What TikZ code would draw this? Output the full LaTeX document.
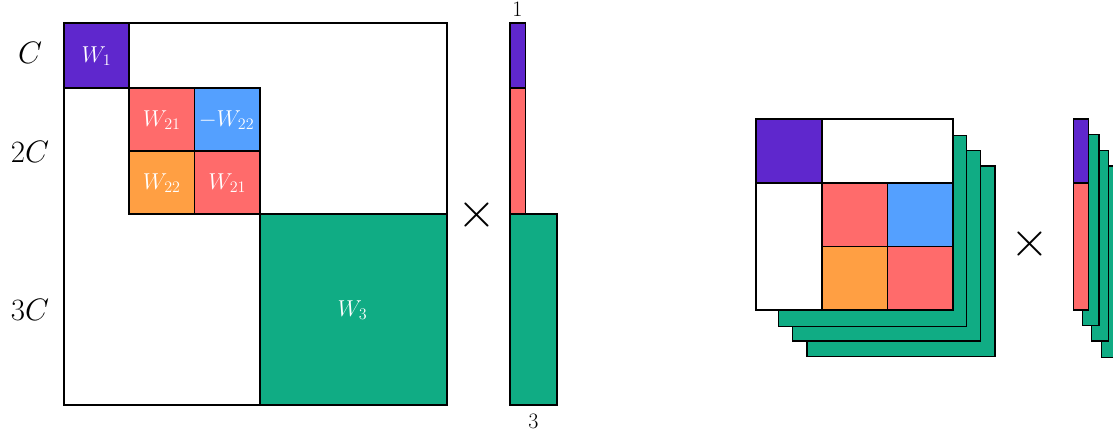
\RequirePackage{fix-cm}
\documentclass[tikz,border=0pt]{standalone}
\usepackage{tikz}
\definecolor{cpurple}{HTML}{5F27CD}
\definecolor{cred}{HTML}{FF6B6B}
\definecolor{cblue}{HTML}{54A0FF}
\definecolor{corange}{HTML}{FF9F43}
\definecolor{cgreen}{HTML}{10AC84}
\tikzset{
  blk/.style={draw=black, line width=1.1pt},
  wlab/.style={text=white, font=\fontsize{23}{23}\selectfont, inner sep=0pt},
  dimlab/.style={font=\fontsize{31}{31}\selectfont, inner sep=0pt},
  numlab/.style={font=\fontsize{22}{22}\selectfont, inner sep=0pt},
  crosslab/.style={font=\fontsize{50}{50}\selectfont, inner sep=0pt},
}
\begin{document}
\begin{tikzpicture}[x=1pt,y=-1pt]
\useasboundingbox (0,0) rectangle (1113,433);
\clip (0,0) rectangle (1113,433);
% ---------- left matrix ----------
\draw[blk, fill=white] (64,23) rectangle (447,405);
\draw[blk, fill=cpurple] (64,23) rectangle (129,88);
\draw[blk, fill=cred] (129,88) rectangle (194.5,151);
\draw[blk, fill=cblue] (194.5,88) rectangle (260,151);
\draw[blk, fill=corange] (129,151) rectangle (194.5,214);
\draw[blk, fill=cred] (194.5,151) rectangle (260,214);
\draw[blk, fill=cgreen] (260,214) rectangle (447,405);
\node[wlab] (w1) at (96.5,56) {$W_1$};
\node[wlab] (w21a) at (161.75,120) {$W_{21}$};
\node[wlab] (w22a) at (226.5,120) {$-W_{22}$};
\node[wlab] (w22b) at (161.75,183) {$W_{22}$};
\node[wlab] (w21b) at (227.25,183) {$W_{21}$};
\node[wlab] (w3) at (352.5,310) {$W_3$};
\node[dimlab] (c1) at (30,53) {$C$};
\node[dimlab] (c2) at (30,152) {$2C$};
\node[dimlab] (c3) at (30,310) {$3C$};
% ---------- left vector ----------
\draw[blk, fill=cpurple] (510,23) rectangle (525.5,88);
\draw[blk, fill=cred] (510,88) rectangle (525.5,214);
\draw[blk, fill=cgreen] (510,214) rectangle (557,405);
\node[numlab] (n1) at (517.5,9.5) {$1$};
\node[numlab] (n3) at (533.5,421) {$3$};
\node[crosslab] (x1) at (476.5,215) {$\times$};
% ---------- right stacked matrix ----------
\draw[blk, fill=cgreen] (807,166) rectangle (995,356.7);
\draw[blk, fill=cgreen] (792.7,150.5) rectangle (980.7,341);
\draw[blk, fill=cgreen] (778.7,135.7) rectangle (966.7,326.7);
\draw[blk, fill=white] (756,119) rectangle (953,310);
\draw[blk, fill=cpurple] (756,119) rectangle (822,183);
\draw[blk] (756,183) -- (822,183);
\draw[blk, fill=cred] (822,183) rectangle (887.5,246.5);
\draw[blk, fill=cblue] (887.5,183) rectangle (953,246.5);
\draw[blk, fill=corange] (822,246.5) rectangle (887.5,310);
\draw[blk, fill=cred] (887.5,246.5) rectangle (953,310);
\node[crosslab] (x2) at (1030,243.5) {$\times$};
% ---------- right stacked vector ----------
\draw[blk, fill=cgreen] (1101.3,166) rectangle (1118,357.7);
\draw[blk, fill=cgreen] (1091.7,150.7) rectangle (1108.7,341);
\draw[blk, fill=cgreen] (1082.3,134.7) rectangle (1099,325.7);
\draw[blk, fill=cpurple] (1073.3,119) rectangle (1088.7,183);
\draw[blk, fill=cred] (1073.3,183) rectangle (1088.7,310);
\end{tikzpicture}
\end{document}
